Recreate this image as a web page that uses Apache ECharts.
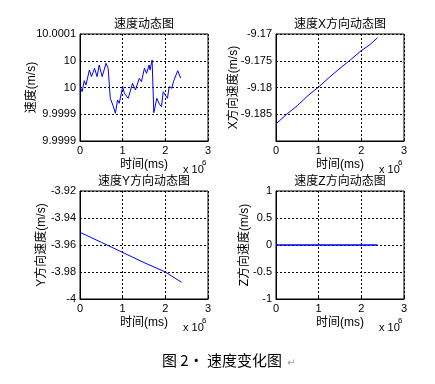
<!DOCTYPE html>
<html><head><meta charset="utf-8">
<script src="https://cdn.jsdelivr.net/npm/echarts@6/dist/echarts.min.js"></script>
<style>html,body{margin:0;padding:0;background:#fff}#c{width:435px;height:384px}</style>
</head><body><div id="c"></div>
<script>
// ---- data ----
const panelTitles = ['速度动态图', '速度X方向动态图', '速度Y方向动态图', '速度Z方向动态图'];
const yNames = ['速度(m/s)', 'X方向速度(m/s)', 'Y方向速度(m/s)', 'Z方向速度(m/s)'];
const xName = '时间(ms)';
const xTickLabels = ['0', '1', '2', '3'];
const caption = '图 2· 速度变化图';

// speed magnitude (m/s) vs time (ms)
const speedTime = [10000, 50000, 100000, 140000, 220000, 270000, 340000, 400000, 450000, 520000,
  610000, 660000, 710000, 770000, 830000, 880000, 920000, 1000000, 1040000, 1130000,
  1230000, 1300000, 1390000, 1440000, 1510000, 1560000, 1620000, 1640000, 1690000, 1730000,
  1800000, 1860000, 1910000, 1950000, 1990000, 2050000, 2090000, 2150000, 2190000, 2230000,
  2290000, 2360000];
const speedVal = [9.9999803, 9.9999737, 9.9999902, 9.9999837, 10.0000062, 9.9999962, 10.0000087, 9.9999962, 10.0000136, 9.9999962,
  10.0000162, 10.0000087, 9.9999638, 9.9999538, 9.9999414, 9.9999613, 9.9999564, 9.9999812, 9.9999713, 9.9999638,
  9.9999863, 9.9999763, 9.9999938, 9.9999887, 10.0000087, 10.0000012, 10.0000136, 10.0000062, 10.0000211, 9.9999423,
  9.9999638, 9.9999553, 9.9999513, 9.9999737, 9.9999763, 9.9999638, 9.9999812, 9.9999788, 9.9999887, 9.9999863,
  10.0000051, 9.9999938];
const speedTicks = [9.9999, 9.99994, 9.99998, 10.00002, 10.00006];
const speedTickLabels = ['9.9999', '9.9999', '10', '10', '10.0001'];

// X-direction speed
const vxTime = [0, 250000, 500000, 750000, 1000000, 1250000, 1500000, 1750000, 2000000, 2200000, 2380000];
const vxVal = [-9.1868, -9.1850, -9.1834, -9.1815, -9.1799, -9.1781, -9.1764, -9.1748, -9.1731, -9.1720, -9.1707];
const vxTicks = [-9.19, -9.185, -9.18, -9.175, -9.17];
const vxTickLabels = ['', '-9.185', '-9.18', '-9.175', '-9.17'];

// Y-direction speed
const vyTime = [0, 500000, 1000000, 1500000, 2000000, 2380000];
const vyVal = [-3.9506, -3.9580, -3.9655, -3.9730, -3.9800, -3.9876];
const vyTicks = [-4, -3.98, -3.96, -3.94, -3.92];
const vyTickLabels = ['-4', '-3.98', '-3.96', '-3.94', '-3.92'];

// Z-direction speed
const vzTime = [0, 2380000];
const vzVal = [0, 0];
const vzTicks = [-1, -0.5, 0, 0.5, 1];
const vzTickLabels = ['-1', '-0.5', '0', '0.5', '1'];

// ---- layout ----
const grids = [
  {left: 80, top: 34, width: 128, height: 107},
  {left: 276, top: 34, width: 128, height: 107},
  {left: 80, top: 191, width: 128, height: 108},
  {left: 276, top: 191, width: 128, height: 108}
];
const nameGaps = [42, 36, 32, 25];
const panels = [
  {t: speedTime, v: speedVal, ticks: speedTicks, labels: speedTickLabels, w: 1},
  {t: vxTime, v: vxVal, ticks: vxTicks, labels: vxTickLabels, w: 1},
  {t: vyTime, v: vyVal, ticks: vyTicks, labels: vyTickLabels, w: 1},
  {t: vzTime, v: vzVal, ticks: vzTicks, labels: vzTickLabels, w: 1.5}
];
const FONT = "'Liberation Sans', 'Noto Sans CJK SC', sans-serif";
const gridLine = {show: true, lineStyle: {color: '#000', type: [2, 2], width: 1}};

// y values are placed on a tick-index scale (tick k at position k) so labels match exactly
function tickPos(p, v) {
  const step = p.ticks[1] - p.ticks[0];
  return (v - p.ticks[0]) / step;
}

const option = {
  animation: false,
  backgroundColor: '#fff',
  grid: grids.map(g => Object.assign({show: true, borderColor: '#000', borderWidth: 1, backgroundColor: 'transparent', outerBoundsMode: 'none', containLabel: false}, g)),
  xAxis: grids.map((g, i) => ({
    type: 'value', gridIndex: i, min: 0, max: 3000000, interval: 1000000,
    name: xName, nameLocation: 'middle', nameGap: 18, nameMoveOverlap: false,
    nameTextStyle: {fontFamily: FONT, fontSize: 12, color: '#000'},
    axisLine: {show: true, lineStyle: {color: '#000'}},
    axisTick: {show: true, inside: true, length: 2, lineStyle: {color: '#000'}},
    axisLabel: {margin: 4, fontFamily: FONT, fontSize: 11, color: '#000',
      formatter: v => xTickLabels[Math.round(v / 1000000)]},
    splitLine: gridLine
  })),
  yAxis: panels.map((p, i) => ({
    type: 'value', gridIndex: i, min: 0, max: p.ticks.length - 1, interval: 1,
    name: yNames[i], nameLocation: 'middle', nameGap: nameGaps[i], nameMoveOverlap: false,
    nameTextStyle: {fontFamily: FONT, fontSize: 12, color: '#000'},
    axisLine: {show: true, lineStyle: {color: '#000'}},
    axisTick: {show: true, inside: true, length: 2, lineStyle: {color: '#000'}},
    axisLabel: {margin: 4, fontFamily: FONT, fontSize: 11, color: '#000', hideOverlap: false,
      formatter: v => { const k = Math.round(v); return p.labels[k] !== undefined ? p.labels[k] : ''; }},
    splitLine: gridLine
  })),
  series: panels.map((p, i) => ({
    type: 'line', xAxisIndex: i, yAxisIndex: i, showSymbol: false, symbol: 'none',
    lineStyle: {color: '#0000ff', width: p.w}, silent: true,
    data: p.t.map((t, k) => [t, tickPos(p, p.v[k])])
  })),
  graphic: [
    ...grids.map((g, i) => ({
      type: 'text', x: g.left + g.width / 2, y: g.top - 9,
      style: {text: panelTitles[i], font: "12px " + FONT, fill: '#000', align: 'center', verticalAlign: 'middle'}
    })),
    ...grids.map(g => ({
      type: 'text', x: g.left + g.width - 25, y: g.top + g.height + 29,
      style: {text: 'x 10', font: "11px " + FONT, fill: '#000', align: 'left', verticalAlign: 'middle'}
    })),
    ...grids.map(g => ({
      type: 'text', x: g.left + g.width - 6, y: g.top + g.height + 22,
      style: {text: '6', font: "8px " + FONT, fill: '#000', align: 'left', verticalAlign: 'middle'}
    })),
    {type: 'text', x: 162, y: 360,
     style: {text: caption, font: "15px 'Noto Sans CJK SC', sans-serif", fill: '#000', align: 'left', verticalAlign: 'middle'}},
    {type: 'text', x: 287, y: 363,
     style: {text: '↵', font: "10px 'DejaVu Sans', sans-serif", fill: '#999', align: 'left', verticalAlign: 'middle'}}
  ]
};
const chart = echarts.init(document.getElementById('c'), null, {renderer: 'canvas'});
chart.setOption(option);
</script>
</body></html>
